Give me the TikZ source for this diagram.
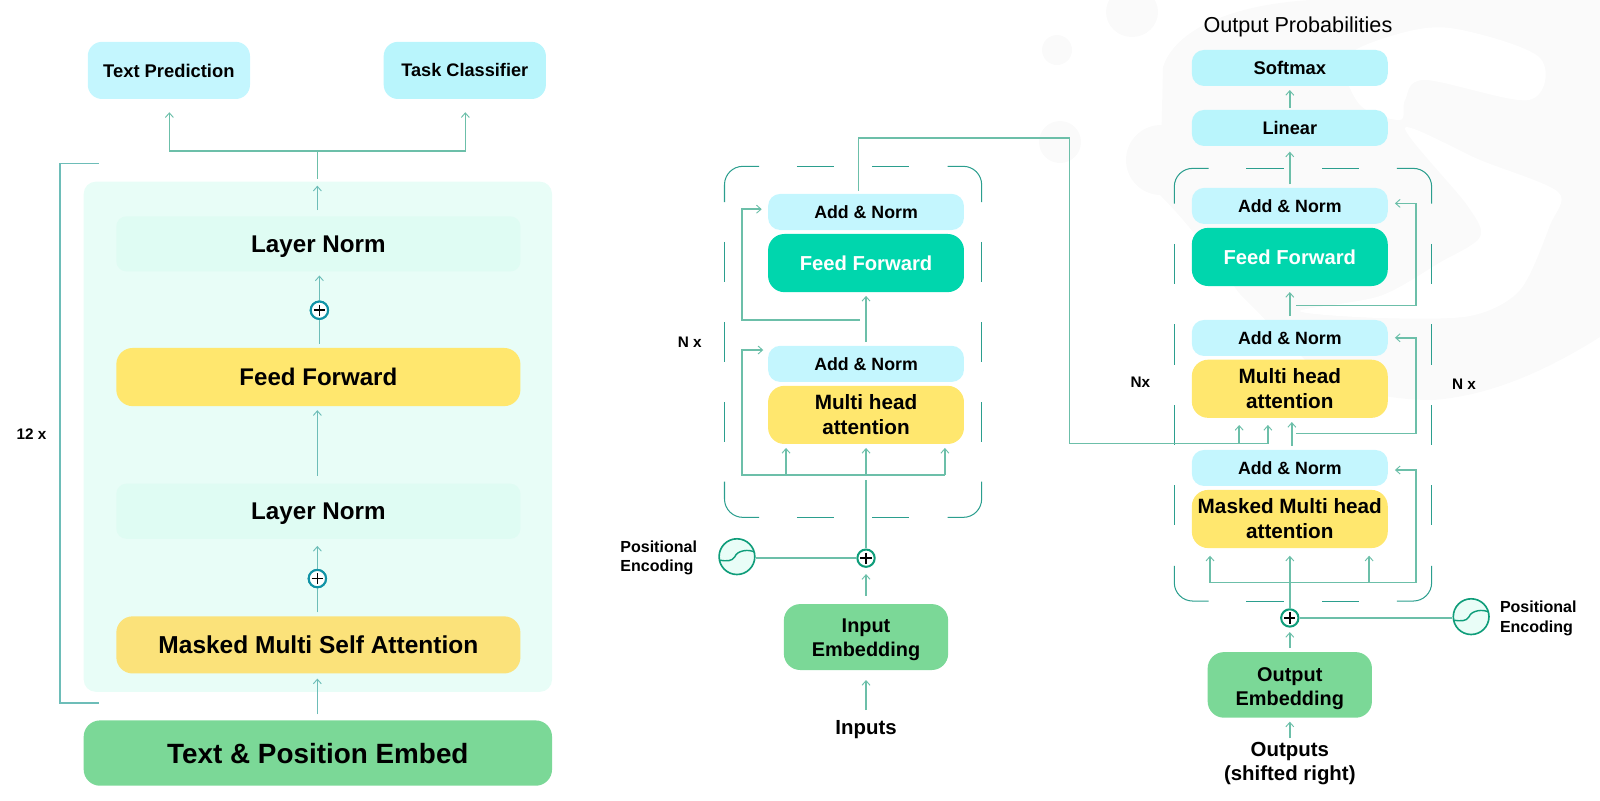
\documentclass[tikz,border=0pt]{standalone}
\usepackage{fontspec}
\usetikzlibrary{arrows.meta,calc}
\setmainfont{Liberation Sans}
\newdimen\ux \ux=0.76531pt
\newdimen\fszd
\newcommand\fsz[1]{\fszd=#1\ux \fontsize{\fszd}{1.2\fszd}\selectfont\bfseries}
\newcommand\fszr[1]{\fszd=#1\ux \fontsize{\fszd}{1.2\fszd}\selectfont}
\definecolor{cconn}{HTML}{6CBFA9}
\definecolor{cleft}{HTML}{6DBDB8}
\definecolor{cdash}{HTML}{2B9E8E}
\definecolor{cpanel}{HTML}{E8FDF7}
\definecolor{cnorm}{HTML}{DFFCF3}
\definecolor{cblue}{HTML}{C4F6FE}
\definecolor{cblueb}{HTML}{B9F5FC}
\definecolor{cyell}{HTML}{FFE76E}
\definecolor{cyellb}{HTML}{FBE27A}
\definecolor{cgreen}{HTML}{7BD897}
\definecolor{cff}{HTML}{00D6AD}
\definecolor{cwm}{HTML}{FAFAFA}
\definecolor{cplusl}{HTML}{1193A6}
\definecolor{cplusr}{HTML}{0F9D7A}
\tikzset{
  fs/.style={font=\fsz{#1}},
  fa/.code={\pgfmathsetlengthmacro\fah{0.72*#1*\ux}\tikzset{font=\fsz{#1},text height=\fah,text depth=0pt}},
  box/.style n args={3}{rounded corners=#3*\ux,minimum width=#1*\ux,minimum height=#2*\ux,inner sep=0pt,align=center,text=black},
  conn/.style={draw=cconn,line width=1.5*\ux},
  connl/.style={draw=cleft,line width=1.5*\ux},
  tipped/.style={-{Straight Barb[length=3.4pt,width=6pt,line width=0.7pt]}},
  dashseg/.style={draw=cdash,line width=1*\ux},
  txt/.style={inner sep=0pt,align=center,text=black},
  plusnode/.style={circle,draw=#1,fill=white,line width=2*\ux,minimum size=17*\ux,inner sep=0pt,
    path picture={\draw[black,line width=1.6*\ux]
      ($(path picture bounding box.center)+(-5.5,0)$) -- ($(path picture bounding box.center)+(5.5,0)$)
      ($(path picture bounding box.center)+(0,-5.5)$) -- ($(path picture bounding box.center)+(0,5.5)$);}},
  sinenode/.style={circle,draw=#1,fill=cnorm!70!white,line width=1.6*\ux,minimum size=35*\ux,inner sep=0pt,
    path picture={\draw[#1,line width=1.4*\ux]
      ($(path picture bounding box.center)+(-18,3.3)$) .. controls +(8,1.2) and +(-3,5) .. ($(path picture bounding box.center)+(-2,0)$)
      .. controls +(2,-6) and +(-6,-4) .. ($(path picture bounding box.center)+(18,-4)$);}},
}
\begin{document}
\begin{tikzpicture}[x=0.76531pt,y=-0.76531pt]
\useasboundingbox (0,0) rectangle (1568,784);
% watermark (coordinates in 1600x800 pixels)
\begin{scope}[x=0.75pt,y=-0.75pt]
\fill[cwm] (1057,50) circle (15);
\fill[cwm] (1060,142) circle (21);
\fill[cwm] (1132,12) ellipse (26 and 25);
\fill[cwm] (1161,160) circle (35);
\fill[cwm] (1310,0) -- (1600,0) -- (1600,337)
  .. controls (1560,362) and (1500,395) .. (1433,400)
  .. controls (1400,400) and (1360,395) .. (1320,375)
  -- (1239,293) .. controls (1215,260) and (1190,225) .. (1160,195)
  -- (1163,67) .. controls (1175,30) and (1230,5) .. (1310,0) -- cycle;
\fill[white] plot[smooth cycle,tension=.55] coordinates {(1345,60) (1388,37) (1450,28) (1539,57) (1529,100) (1425,80) (1405,100) (1400,120) (1360,105)};
\fill[white] plot[smooth cycle,tension=.5] coordinates {(1405,128) (1480,160) (1558,192) (1550,225) (1520,290) (1470,316) (1380,318) (1300,311) (1380,296) (1439,263) (1480,237) (1467,205)};
\end{scope}
% ---------- left ----------
\node[box={459}{500}{12},fill=cpanel] (panel) at (311.5,428) {};
\node[box={159}{56}{14},fill=cblue,fa=18] (tp) at (165.5,69) {Text Prediction};
\node[box={159}{56}{14},fill=cblueb,fa=17.8] (tc) at (455.5,69) {Task Classifier};
\node[box={396}{54}{10},fill=cnorm,fa=23.7] (ln1) at (312,239) {Layer Norm};
\node[box={396}{57}{16},fill=cyell,fa=23.6] (ffl) at (312,369.5) {Feed Forward};
\node[box={396}{54}{10},fill=cnorm,fa=23.7] (ln2) at (312,501) {Layer Norm};
\node[box={396}{56}{16},fill=cyellb,fa=24] (mm) at (312,632) {Masked Multi Self Attention};
\node[box={459}{64}{16},fill=cgreen,fa=27.3] (tpe) at (311.5,738) {Text \& Position Embed};
\node[plusnode=cplusl] (pl1) at (313,304) {};
\node[plusnode=cplusl] (pl2) at (311,567) {};
\node[txt,fa=15] (twelve) at (31,425) {12 x};
\coordinate (jc) at (311,148);
\coordinate (tpin) at (166,110);
\coordinate (tcin) at (456,110);
\coordinate (jtop) at (311,175);
\coordinate (jtip) at (311,182);
\coordinate (ln1out) at (311,206);
\coordinate (brt) at (97,160);
\coordinate (brb) at (97,689);
\draw[connl] (brt) -- (59,160) -- (59,689) -- (brb);
\draw[conn,tipped] (jc) -| (tpin);
\draw[conn,tipped] (jc) -| (tcin);
\draw[conn] (jtop) -- (jc);
\draw[connl,tipped] (ln1out) -- (jtip);
\coordinate (a1) at (313,337); \coordinate (a1t) at (313,270);
\draw[connl,tipped] (a1) -- (pl1) -- (a1t);
\coordinate (a2) at (311,466); \coordinate (a2t) at (311,402);
\draw[connl,tipped] (a2) -- (a2t);
\coordinate (a3) at (311,600); \coordinate (a3t) at (311,535);
\draw[connl,tipped] (a3) -- (pl2) -- (a3t);
\coordinate (a4) at (311,700); \coordinate (a4t) at (311,665);
\draw[connl,tipped] (a4) -- (a4t);
\node[plusnode=cplusl] at (pl1) {};
\node[plusnode=cplusl] at (pl2) {};
% ---------- encoder ----------
\node[box={192}{35.4}{12},fill=cblue,fa=17.4] (ean1) at (848.7,207.7) {Add \& Norm};
\node[box={192}{57}{16},fill=cff,fa=19.8,text=white] (eff) at (848.7,257.8) {Feed Forward};
\node[box={192}{35.4}{12},fill=cblue,fa=17.4] (ean2) at (848.7,356.6) {Add \& Norm};
\node[box={192}{57}{16},fill=cyell,fs=20.3] (emh) at (848.7,406.6) {Multi head\\attention};
\node[box={161}{64.6}{16},fill=cgreen,fs=19.5] (eie) at (848.7,624.3) {\rule{0pt}{0.95em}Input\\Embedding};
\node[txt,fa=20] (einp) at (848.7,712.6) {Inputs};
\node[plusnode=cplusr] (epl) at (848.7,547) {};
\node[sinenode=cplusr] (esn) at (722.2,545.5) {};
\node[txt,fs=15.7,align=left] (epe) at (645.5,547) {Positional\\Encoding};
\node[txt,fa=15] (enx) at (676,335) {N x};
% dashed frame encoder
\foreach \a/\b in {237/276,316/355,394/433}{
  \draw[dashseg] (710,\a) -- (710,\b); \draw[dashseg] (962,\a) -- (962,\b);}
\foreach \a/\b in {781/817.3,854.6/891}{
  \draw[dashseg] (\a,163) -- (\b,163); \draw[dashseg] (\a,507) -- (\b,507);}
\draw[dashseg,rounded corners=18*\ux] (710,198) -- (710,163) -- (744,163);
\draw[dashseg,rounded corners=18*\ux] (962,198) -- (962,163) -- (928.6,163);
\draw[dashseg,rounded corners=18*\ux] (710,472) -- (710,507) -- (744,507);
\draw[dashseg,rounded corners=18*\ux] (962,472) -- (962,507) -- (928.6,507);
\coordinate (e1) at (848.7,335); \coordinate (e1t) at (848.7,290);
\draw[conn,tipped] (e1) -- (e1t);
\coordinate (e2) at (842.8,313.6); \coordinate (e2m) at (727,313.6); \coordinate (e2u) at (727,205); \coordinate (e2t) at (746.5,205);
\draw[conn,tipped] (e2) -- (e2m) -- (e2u) -- (e2t);
\coordinate (e3u) at (727,343); \coordinate (e3t) at (748,343); \coordinate (e3r) at (926,465.5); \coordinate (e3l) at (727,465.5);
\draw[conn,tipped] (e3r) -- (e3l) -- (e3u) -- (e3t);
\coordinate (e4a) at (770.3,465.5); \coordinate (e4at) at (770.3,439);
\coordinate (e4b) at (848.7,465.5); \coordinate (e4bt) at (848.7,439);
\coordinate (e4ct) at (926,439);
\draw[conn,tipped] (e4a) -- (e4at);
\draw[conn,tipped] (e4b) -- (e4bt);
\draw[conn,tipped] (e3r) -- (e4ct);
\coordinate (e5) at (848.7,470.4);
\draw[conn] (e5) -- (epl.north);
\draw[conn] (esn.east |- epl.west) -- (epl.west);
\coordinate (e6) at (848.7,584); \coordinate (e6t) at (848.7,562.6);
\draw[conn,tipped] (e6) -- (e6t);
\coordinate (e7) at (848.7,696); \coordinate (e7t) at (848.7,666.4);
\draw[conn,tipped] (e7) -- (e7t);
% ---------- decoder ----------
\node[txt,font=\fszr{21.2}] (dop) at (1272,26) {Output Probabilities};
\node[box={192}{35.3}{12},fill=cblueb,fa=18] (dsm) at (1264,66.6) {Softmax};
\node[box={192}{35.3}{12},fill=cblueb,fa=17.8] (dli) at (1264,125.4) {Linear};
\node[box={192}{35.3}{12},fill=cblue,fa=17.4] (dan1) at (1264,201.8) {Add \& Norm};
\node[box={192}{57}{16},fill=cff,fa=19.8,text=white] (dff) at (1264,251.8) {Feed Forward};
\node[box={192}{35.3}{12},fill=cblue,fa=17.4] (dan2) at (1264,331.2) {Add \& Norm};
\node[box={192}{57}{16},fill=cyell,fs=20.3] (dmh) at (1264,381) {Multi head\\attention};
\node[box={192}{35.3}{12},fill=cblue,fa=17.4] (dan3) at (1264,458.6) {Add \& Norm};
\node[box={192}{57}{16},fill=cyell,fs=20.3] (dmm) at (1264,508.6) {Masked Multi head\\attention};
\node[box={161}{64.3}{16},fill=cgreen,fs=19.5] (doe) at (1264,671.2) {\rule{0pt}{1.05em}Output\\Embedding};
\node[txt,fs=20] (dout) at (1264,748.5) {Outputs\\(shifted right)};
\node[plusnode=cplusr] (dpl) at (1264,605.6) {};
\node[sinenode=cplusr] (dsn) at (1441.7,604.3) {};
\node[txt,fs=15.7,align=left] (dpe) at (1507.5,606) {Positional\\Encoding};
\node[txt,fa=15] (dnx1) at (1117.5,374.7) {Nx};
\node[txt,fa=15] (dnx2) at (1434.7,376) {N x};
% dashed frame decoder
\foreach \a/\b in {239/278.7,318/357.6,397/436,475.4/514.7}{
  \draw[dashseg] (1150.8,\a) -- (1150.8,\b); \draw[dashseg] (1403,\a) -- (1403,\b);}
\foreach \a/\b in {1221.5/1258.4,1295.6/1332}{
  \draw[dashseg] (\a,165) -- (\b,165); \draw[dashseg] (\a,589) -- (\b,589);}
\draw[dashseg,rounded corners=18*\ux] (1150.8,199.6) -- (1150.8,165) -- (1184.4,165);
\draw[dashseg,rounded corners=18*\ux] (1403,199.6) -- (1403,165) -- (1369,165);
\draw[dashseg,rounded corners=18*\ux] (1150.8,554.6) -- (1150.8,589) -- (1184.4,589);
\draw[dashseg,rounded corners=18*\ux] (1403,554.6) -- (1403,589) -- (1369,589);
\coordinate (x0) at (841.5,187); \coordinate (x1) at (841.5,135); \coordinate (x2) at (1048,135); \coordinate (x3) at (1048,434.4);
\coordinate (x4) at (1242.5,434.4); \coordinate (x4t) at (1242.5,416.5);
\coordinate (x5) at (1214.4,434.4); \coordinate (x5t) at (1214.4,416.5);
\draw[conn,tipped] (x0) -- (x1) -- (x2) -- (x3) -- (x4) -- (x4t);
\draw[conn,tipped] (x5) -- (x5t);
\coordinate (d1) at (1266,437); \coordinate (d1t) at (1266,413.6);
\draw[conn,tipped] (d1) -- (d1t);
\coordinate (d2) at (1270,425); \coordinate (d2r) at (1387.7,425); \coordinate (d2u) at (1387.7,331); \coordinate (d2t) at (1367,331);
\draw[conn,tipped] (d2) -- (d2r) -- (d2u) -- (d2t);
\coordinate (d3) at (1264,309.7); \coordinate (d3t) at (1264,286.2);
\draw[conn,tipped] (d3) -- (d3t);
\coordinate (d4) at (1270,299.6); \coordinate (d4r) at (1387.7,299.6); \coordinate (d4u) at (1387.7,199.3); \coordinate (d4t) at (1367,199.3);
\draw[conn,tipped] (d4) -- (d4r) -- (d4u) -- (d4t);
\coordinate (d5) at (1264,180.6); \coordinate (d5t) at (1264,148.6);
\draw[conn,tipped] (d5) -- (d5t);
\coordinate (d6) at (1264,106); \coordinate (d6t) at (1264,88.2);
\draw[conn,tipped] (d6) -- (d6t);
\coordinate (d7l) at (1185.8,571); \coordinate (d7lt) at (1185.8,544.6);
\coordinate (d7m) at (1264,571); \coordinate (d7mt) at (1264,544.6);
\coordinate (d7n) at (1341.7,571); \coordinate (d7nt) at (1341.7,544.6);
\coordinate (d7r) at (1387.7,571); \coordinate (d7u) at (1387.7,460.6); \coordinate (d7t) at (1367,460.6);
\draw[conn,tipped] (d7l) -- (d7r) -- (d7u) -- (d7t);
\draw[conn,tipped] (d7l) -- (d7lt);
\draw[conn,tipped] (d7m) -- (d7mt);
\draw[conn,tipped] (d7n) -- (d7nt);
\draw[conn] (dpl.north) -- (d7m);
\draw[conn] (dpl.east) -- (dsn.west |- dpl.east);
\coordinate (d8) at (1264,635.1); \coordinate (d8t) at (1264,619.4);
\draw[conn,tipped] (d8) -- (d8t);
\coordinate (d9) at (1264,723.5); \coordinate (d9t) at (1264,707.2);
\draw[conn,tipped] (d9) -- (d9t);
\end{tikzpicture}
\end{document}
